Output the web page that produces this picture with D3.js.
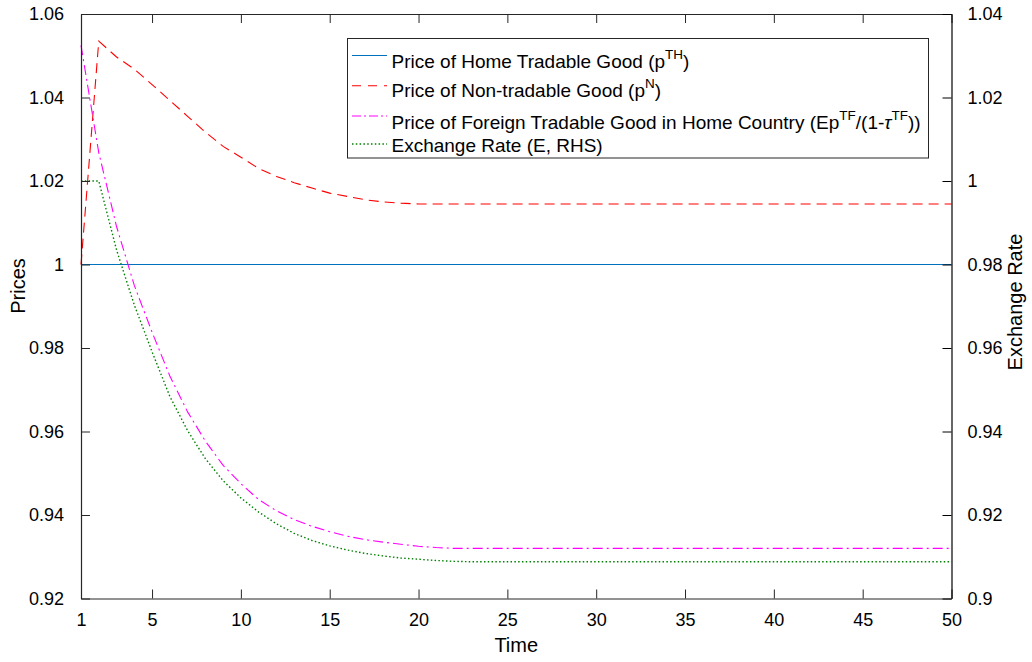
<!DOCTYPE html>
<html>
<head>
<meta charset="utf-8">
<script src="https://cdn.jsdelivr.net/npm/d3@7/dist/d3.min.js"></script>
<style>
  html, body { margin: 0; padding: 0; background: #fff; }
  svg { display: block; font-family: "Liberation Sans", Arial, Helvetica, sans-serif; }
</style>
</head>
<body>
<svg id="chart" width="1032" height="662"></svg>
<script>
// Time periods (x axis)
const periods = [1,2,3,4,5,6,7,8,9,10,11,12,13,14,15,16,17,18,19,20,
                 21,22,23,24,25,26,27,28,29,30,31,32,33,34,35,36,37,38,39,40,
                 41,42,43,44,45,46,47,48,49,50];

// Price of home tradable good (left axis)
const priceHomeTradable = [1,1,1,1,1,1,1,1,1,1,1,1,1,1,1,1,1,1,1,1,
                           1,1,1,1,1,1,1,1,1,1,1,1,1,1,1,1,1,1,1,1,
                           1,1,1,1,1,1,1,1,1,1];

// Price of non-tradable good (left axis)
const priceNonTradable = [1.0000,1.0535,1.0497,1.0468,1.0431,1.0393,1.0355,1.0317,1.0283,1.0257,
                          1.0230,1.0211,1.0196,1.0183,1.0171,1.0163,1.0155,1.0150,1.0147,1.0145,
                          1.0145,1.0145,1.0145,1.0145,1.0145,1.0145,1.0145,1.0145,1.0145,1.0145,
                          1.0145,1.0145,1.0145,1.0145,1.0145,1.0145,1.0145,1.0145,1.0145,1.0145,
                          1.0145,1.0145,1.0145,1.0145,1.0145,1.0145,1.0145,1.0145,1.0145,1.0145];

// Price of foreign tradable good in home country (left axis)
const priceForeignTradable = [1.0525,1.0268,1.0091,0.9950,0.9838,0.9733,0.9647,0.9577,0.9519,0.9475,
                              0.9437,0.9410,0.9389,0.9373,0.9360,0.9349,0.9341,0.9335,0.9330,0.9325,
                              0.9322,0.9320,0.9320,0.9320,0.9320,0.9320,0.9320,0.9320,0.9320,0.9320,
                              0.9320,0.9320,0.9320,0.9320,0.9320,0.9320,0.9320,0.9320,0.9320,0.9320,
                              0.9320,0.9320,0.9320,0.9320,0.9320,0.9320,0.9320,0.9320,0.9320,0.9320];

// Exchange rate (right axis)
const exchangeRate = [1.0000,1.0000,0.9835,0.9703,0.9591,0.9484,0.9402,0.9335,0.9282,0.9241,
                      0.9207,0.9179,0.9156,0.9139,0.9126,0.9116,0.9108,0.9102,0.9097,0.9094,
                      0.9091,0.9089,0.9088,0.9088,0.9088,0.9088,0.9088,0.9088,0.9088,0.9088,
                      0.9088,0.9088,0.9088,0.9088,0.9088,0.9088,0.9088,0.9088,0.9088,0.9088,
                      0.9088,0.9088,0.9088,0.9088,0.9088,0.9088,0.9088,0.9088,0.9088,0.9088];

// Tick values and labels
const xTicks = [1,5,10,15,20,25,30,35,40,45,50];
const leftTicks = [0.92,0.94,0.96,0.98,1,1.02,1.04,1.06];
const leftTickLabels = ["0.92","0.94","0.96","0.98","1","1.02","1.04","1.06"];
const rightTicks = [0.9,0.92,0.94,0.96,0.98,1,1.02,1.04];
const rightTickLabels = ["0.9","0.92","0.94","0.96","0.98","1","1.02","1.04"];

// Legend entries
const legendEntries = [
  { key: "home",  parts: [{t:"Price of Home Tradable Good (p"},{t:"TH",sup:true},{t:")"}] },
  { key: "nontr", parts: [{t:"Price of Non-tradable Good (p"},{t:"N",sup:true},{t:")"}] },
  { key: "foreign", parts: [{t:"Price of Foreign Tradable Good in Home Country (Ep"},{t:"TF",sup:true},
                            {t:"/(1-"},{t:"\u03C4",it:true},{t:"TF",sup:true},{t:"))"}] },
  { key: "fx",    parts: [{t:"Exchange Rate (E, RHS)"}] }
];

const styles = {
  home:    { color: "#0072BD", dash: null,        legendDash: null },
  nontr:   { color: "#FF0000", dash: "10,6",      legendDash: "9,7" },
  foreign: { color: "#FF00FF", dash: "10,4,2,4",  legendDash: "9,3,2,3" },
  fx:      { color: "#008000", dash: "1.5,2.3",   legendDash: "1.5,2.3" }
};

const svg = d3.select("#chart");
const plot = { left: 81, right: 951.5, top: 14, bottom: 598.5 };
const axisColor = "#262626";
const tickFont = 18;
const labelFont = 20;
const legendFont = 19;

const x = d3.scaleLinear().domain([1, 50]).range([plot.left, plot.right]);
const yL = d3.scaleLinear().domain([0.92, 1.06]).range([plot.bottom, plot.top]);
const yR = d3.scaleLinear().domain([0.9, 1.04]).range([plot.bottom, plot.top]);

// Series lines
const seriesDefs = [
  { key: "home",    values: priceHomeTradable,   scale: yL },
  { key: "nontr",   values: priceNonTradable,    scale: yL },
  { key: "foreign", values: priceForeignTradable, scale: yL },
  { key: "fx",      values: exchangeRate,        scale: yR }
];

const linesG = svg.append("g");
seriesDefs.forEach(s => {
  const line = d3.line()
    .x((d, i) => x(periods[i]))
    .y(d => s.scale(d));
  linesG.append("path")
    .datum(s.values)
    .attr("d", line)
    .attr("fill", "none")
    .attr("stroke", styles[s.key].color)
    .attr("stroke-width", s.key === "fx" ? 1.4 : 1.1)
    .attr("stroke-dasharray", styles[s.key].dash);
});

// Axes (ticks pointing inward)
const tickLen = 9;

const xAxis = d3.axisBottom(x).tickValues(xTicks).tickSize(-tickLen).tickSizeOuter(0)
  .tickPadding(tickLen + 6).tickFormat(d3.format("d"));
const gx = svg.append("g").attr("transform", `translate(0,${plot.bottom})`).call(xAxis);

const xTop = d3.axisTop(x).tickValues(xTicks).tickSize(-tickLen).tickSizeOuter(0).tickFormat("");
const gxt = svg.append("g").attr("transform", `translate(0,${plot.top})`).call(xTop);

const yAxisL = d3.axisLeft(yL).tickValues(leftTicks).tickSize(-tickLen).tickSizeOuter(0)
  .tickPadding(tickLen + 8).tickFormat((d, i) => leftTickLabels[i]);
const gyl = svg.append("g").attr("transform", `translate(${plot.left},0)`).call(yAxisL);

const yAxisR = d3.axisRight(yR).tickValues(rightTicks).tickSize(-tickLen).tickSizeOuter(0)
  .tickPadding(tickLen + 7).tickFormat((d, i) => rightTickLabels[i]);
const gyr = svg.append("g").attr("transform", `translate(${plot.right},0)`).call(yAxisR);

[gx, gxt, gyl].forEach(g => {
  g.select(".domain").attr("stroke", axisColor).attr("stroke-width", 1.2);
  g.selectAll(".tick line").attr("stroke", axisColor);
});
gyr.select(".domain").attr("stroke", "#000").attr("stroke-width", 1.2);
gyr.selectAll(".tick line").attr("stroke", "#000");
[gx, gyl, gyr].forEach(g => {
  g.selectAll("text").attr("font-size", tickFont).attr("fill", "#000")
    .attr("font-family", "Liberation Sans, Arial, sans-serif");
});

// Axis titles
svg.append("text")
  .attr("x", (plot.left + plot.right) / 2).attr("y", 652)
  .attr("text-anchor", "middle").attr("font-size", labelFont).text("Time");
svg.append("text")
  .attr("transform", `translate(25,286) rotate(-90)`)
  .attr("text-anchor", "middle").attr("font-size", labelFont).text("Prices");
svg.append("text")
  .attr("transform", `translate(1021.5,302) rotate(-90)`)
  .attr("text-anchor", "middle").attr("font-size", labelFont).text("Exchange Rate");

// Legend
const leg = { x: 347.5, y: 38.5, w: 581, h: 119.5 };
const legG = svg.append("g");
legG.append("rect")
  .attr("x", leg.x).attr("y", leg.y).attr("width", leg.w).attr("height", leg.h)
  .attr("fill", "#fff").attr("stroke", axisColor).attr("stroke-width", 1);

const rowLineY = [55.5, 85.7, 116, 144];
const rowBaseY = [67.7, 96.5, 128.5, 151.7];
legendEntries.forEach((e, i) => {
  const st = styles[e.key];
  legG.append("line")
    .attr("x1", 352).attr("x2", 387)
    .attr("y1", rowLineY[i]).attr("y2", rowLineY[i])
    .attr("stroke", st.color)
    .attr("stroke-width", e.key === "fx" ? 1.4 : 1.1)
    .attr("stroke-dasharray", st.legendDash);
  const txt = legG.append("text")
    .attr("x", 391.5).attr("y", rowBaseY[i])
    .attr("font-size", legendFont).attr("fill", "#000");
  let raised = false;
  e.parts.forEach(p => {
    const ts = txt.append("tspan").text(p.t);
    if (p.sup) {
      ts.attr("font-size", 13.5).attr("dy", raised ? 0 : -9);
      raised = true;
    } else {
      if (raised) { ts.attr("dy", 9); raised = false; }
      if (p.it) ts.attr("font-style", "italic");
    }
  });
});
</script>
</body>
</html>
